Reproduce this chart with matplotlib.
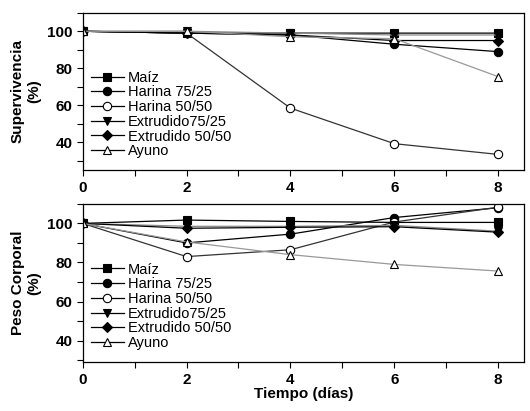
import matplotlib
matplotlib.use("Agg")
import matplotlib.pyplot as plt
from matplotlib.ticker import MultipleLocator

plt.rcParams['font.family'] = ['Liberation Sans', 'DejaVu Sans']

dias = [0, 2, 4, 6, 8]
series = ["Maíz", "Harina 75/25", "Harina 50/50", "Extrudido75/25", "Extrudido 50/50", "Ayuno"]

superv = {
    "Maíz": [100, 99, 99, 99, 99],
    "Harina 75/25": [100, 99, 98, 93, 89],
    "Harina 50/50": [100, 99, 58.5, 39.3, 33.5],
    "Extrudido75/25": [100, 100, 99, 98, 98],
    "Extrudido 50/50": [100, 99, 98, 95, 95],
    "Ayuno": [100, 100, 97, 96, 75.5],
}

peso = {
    "Maíz": [100, 101.7, 101, 100.5, 100.5],
    "Harina 75/25": [100, 90, 94.5, 103, 108],
    "Harina 50/50": [100, 83, 86.5, 100.7, 108.3],
    "Extrudido75/25": [100, 98.5, 98.5, 99, 96],
    "Extrudido 50/50": [100, 97.5, 98, 98.3, 95.5],
    "Ayuno": [100, 90.5, 84, 79, 75.6],
}

# marker style, face colour, line colour
estilos = {
    "Maíz": ("s", "black", "black"),
    "Harina 75/25": ("o", "black", "black"),
    "Harina 50/50": ("o", "white", "#333333"),
    "Extrudido75/25": ("v", "black", "#888888"),
    "Extrudido 50/50": ("D", "black", "black"),
    "Ayuno": ("^", "white", "#999999"),
}

fig = plt.figure(figsize=(5.3, 4.11), dpi=100)
ax1 = fig.add_axes([0.156, 0.586, 0.833, 0.383])
ax2 = fig.add_axes([0.156, 0.119, 0.833, 0.385])

for ax, datos, ylim in [(ax1, superv, (25, 110)), (ax2, peso, (29, 110))]:
    for nombre in series:
        m, fc, lc = estilos[nombre]
        ms = 5 if m == "D" else 6
        ax.plot(dias, datos[nombre], color=lc, lw=0.9, marker=m, ms=ms,
                mfc=fc, mec="black", mew=0.8, label=nombre)
    ax.set_xlim(0, 8.5)
    ax.set_ylim(*ylim)
    ax.xaxis.set_major_locator(MultipleLocator(2))
    ax.xaxis.set_minor_locator(MultipleLocator(1))
    ax.yaxis.set_major_locator(MultipleLocator(20))
    ax.yaxis.set_minor_locator(MultipleLocator(10))
    ax.tick_params(which="both", direction="out", length=4, width=0.8,
                   labelsize=11)
    for lab in ax.get_xticklabels() + ax.get_yticklabels():
        lab.set_fontweight("bold")
    for sp in ax.spines.values():
        sp.set_linewidth(0.9)
    leg = ax.legend(loc="lower left", bbox_to_anchor=(0.0, 0.02), frameon=False,
                    fontsize=10.5, handlelength=2.2, handletextpad=0.3,
                    labelspacing=0.05, borderaxespad=0.2)
    for ln in leg.get_lines():
        ln.set_color("black")

ax1.set_ylabel("Supervivencia\n(%)", fontsize=11, fontweight="bold")
ax2.set_ylabel("Peso Corporal\n(%)", fontsize=11, fontweight="bold")
ax2.set_xlabel("Tiempo (días)", fontsize=11, fontweight="bold", labelpad=0)

fig.savefig("out.png", dpi=100)
